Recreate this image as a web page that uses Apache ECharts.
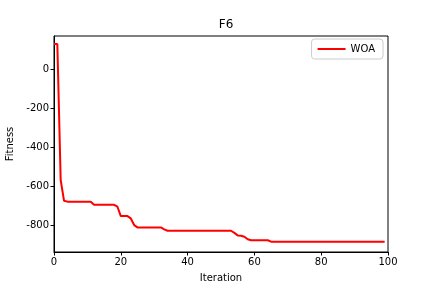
<!DOCTYPE html>
<html><head><meta charset="utf-8">
<script src="https://cdn.jsdelivr.net/npm/echarts@6/dist/echarts.min.js"></script>
<style>html,body{margin:0;padding:0;background:#fff}#c{width:432px;height:288px}</style>
</head><body><div id="c"></div>
<script>
const iterations = Array.from({length:100},(_,i)=>i);
const woa = [128,128,-569,-675,-680,-680,-680,-680,-680,-680,
-680,-680,-696,-696,-696,-696,-696,-696,-696,-706,
-754,-754,-754,-766,-800,-812,-812,-812,-812,-812,
-812,-812,-812,-822,-829,-829,-829,-829,-829,-829,
-829,-829,-829,-829,-829,-829,-829,-829,-829,-829,
-829,-829,-829,-829,-840,-853,-855,-860,-873,-878,
-878,-878,-878,-878,-878,-885,-885,-885,-885,-885,
-885,-885,-885,-885,-885,-885,-885,-885,-885,-885,
-885,-885,-885,-885,-885,-885,-885,-885,-885,-885,
-885,-885,-885,-885,-885,-885,-885,-885,-885,-885];
const yTicks = [-800,-600,-400,-200,0];
const F = 'DejaVu Sans';
const chart = echarts.init(document.getElementById('c'));
chart.setOption({
  animation:false,
  title:{text:'F6',left:221,top:14,textAlign:'center',textStyle:{fontFamily:F,fontSize:12,fontWeight:'normal',color:'#000'}},
  legend:{data:['WOA'],right:49,top:39,orient:'vertical',itemWidth:28,itemHeight:2,itemGap:4,
    padding:[5,8,5,6],borderColor:'#ccc',borderWidth:1,borderRadius:3,
    textStyle:{fontFamily:F,fontSize:10,color:'#000'},icon:'rect'},
  grid:{left:54,right:44,top:36,bottom:36,show:true,borderColor:'#000',borderWidth:1,containLabel:false,outerBoundsMode:'none'},
  xAxis:{type:'value',min:0,max:100,interval:20,name:'Iteration',nameLocation:'middle',nameGap:21,
    nameTextStyle:{fontFamily:F,fontSize:10,color:'#000'},
    axisLine:{show:true,onZero:false,lineStyle:{color:'#000',width:1}},
    axisTick:{show:true,length:3.5,lineStyle:{color:'#000'}},
    axisLabel:{fontFamily:F,fontSize:10,color:'#000',margin:5},
    splitLine:{show:false}},
  yAxis:{type:'value',min:-938,max:169,name:'Fitness',nameLocation:'middle',nameGap:38,
    nameTextStyle:{fontFamily:F,fontSize:10,color:'#000'},
    axisLine:{show:true,onZero:false,lineStyle:{color:'#000',width:1}},
    axisTick:{show:true,length:3.5,customValues:yTicks,lineStyle:{color:'#000'}},
    axisLabel:{fontFamily:F,fontSize:10,color:'#000',margin:5,customValues:yTicks},
    splitLine:{show:false}},
  series:[{name:'WOA',type:'line',data:iterations.map((x,i)=>[x,woa[i]]),showSymbol:false,
    lineStyle:{color:'#ff0000',width:2},itemStyle:{color:'#ff0000'}}]
});
</script></body></html>
